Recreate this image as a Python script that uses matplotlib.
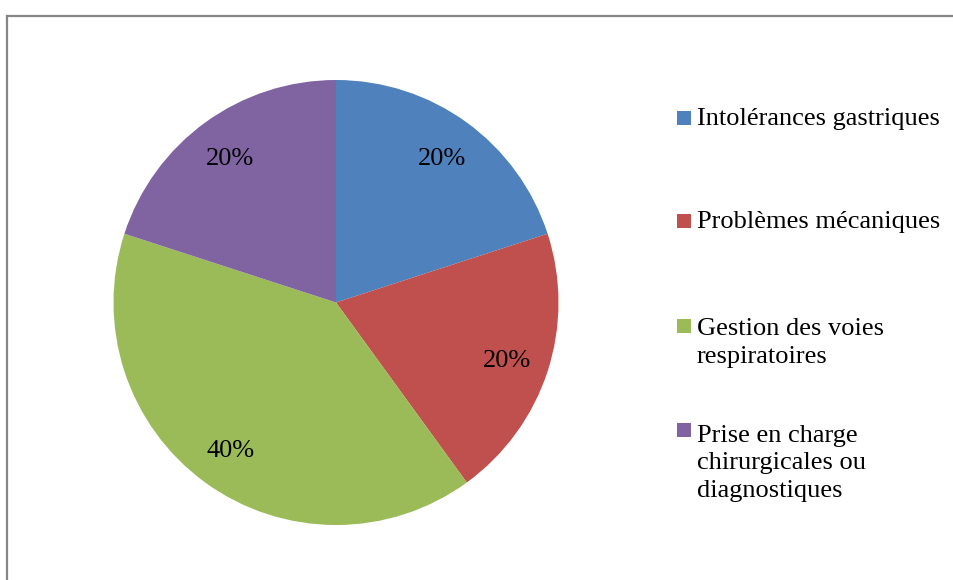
import matplotlib.pyplot as plt
from matplotlib.patches import Rectangle

labels = ["Intolérances gastriques", "Problèmes mécaniques",
          "Gestion des voies\nrespiratoires",
          "Prise en charge\nchirurgicales ou\ndiagnostiques"]
values = [20, 20, 40, 20]
colors = ["#4F81BD", "#C0504D", "#9BBB59", "#8064A2"]

W, H = 954, 580
plt.rcParams['font.family'] = ['Liberation Serif', 'DejaVu Serif']

fig = plt.figure(figsize=(W / 100, H / 100), dpi=100)

# pie: center (336, 302), radius ~222.5 px
cx, cy, r = 336, 302.5, 222.5
ax = fig.add_axes([(cx - r) / W, 1 - (cy + r) / H, 2 * r / W, 2 * r / H])
wedges, texts, autotexts = ax.pie(values, colors=colors, startangle=90, counterclock=False,
                                  autopct='%1.0f%%', pctdistance=0.81, radius=1,
                                  textprops={'fontsize': 19, 'color': 'black'})
for t in autotexts:
    t.set_va('center_baseline')
ax.set_xlim(-1, 1)
ax.set_ylim(-1, 1)
ax.set_aspect('auto')
ax.axis('off')

# frame (top and left only)
fig.add_artist(plt.Line2D([7.5 / W, 1], [1 - 15.5 / H, 1 - 15.5 / H], color='#868686', lw=1.6))
fig.add_artist(plt.Line2D([7.5 / W, 7.5 / W], [0, 1 - 15.5 / H], color='#868686', lw=1.6))

# legend drawn by hand
baselines = [125, 228, 333, 437]
line_px = 30
for lab, col, yb in zip(labels, colors, baselines):
    fig.add_artist(Rectangle((677 / W, 1 - yb / H), 14 / W, 14 / H,
                             transform=fig.transFigure, color=col, lw=0))
    n = lab.count('\n')
    y_last = yb + n * line_px
    fig.text(697 / W, 1 - y_last / H, lab, fontsize=19, va='baseline', ha='left',
             linespacing=1.33)

fig.savefig('out.png', dpi=100)
